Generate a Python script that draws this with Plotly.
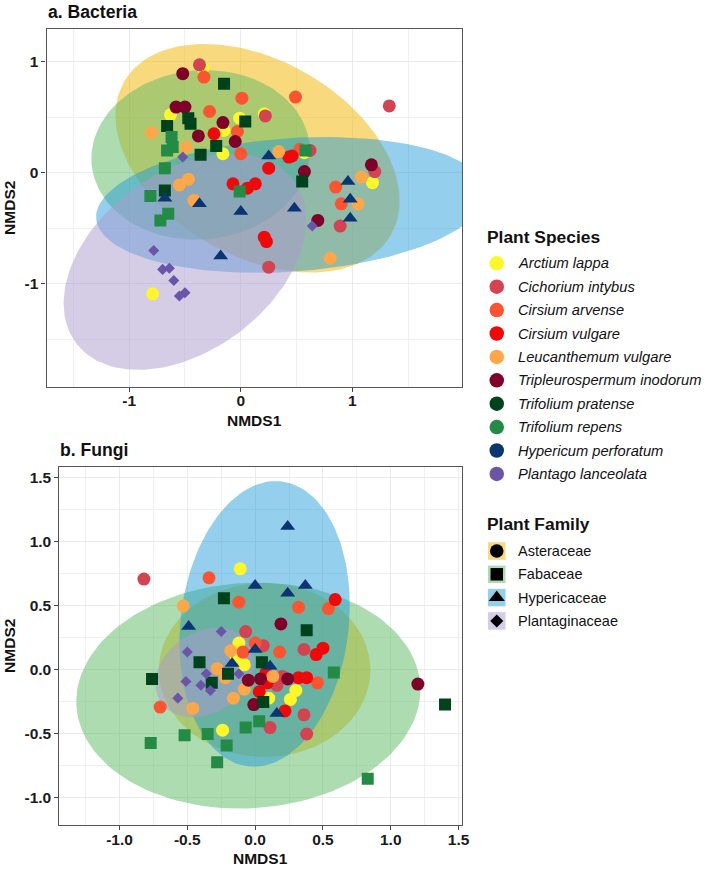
import numpy as np
import plotly.graph_objects as go

# ---------------- data ----------------
species = ["Arctium lappa", "Cichorium intybus", "Cirsium arvense", "Cirsium vulgare",
           "Leucanthemum vulgare", "Tripleurospermum inodorum", "Trifolium pratense",
           "Trifolium repens", "Hypericum perforatum", "Plantago lanceolata"]
species_family = ["Asteraceae", "Asteraceae", "Asteraceae", "Asteraceae", "Asteraceae",
                  "Asteraceae", "Fabaceae", "Fabaceae", "Hypericaceae", "Plantaginaceae"]
species_colors = ["#FCF62A", "#D24452", "#FC5430", "#EE0A0A", "#FCA84A", "#7F0028",
                  "#00421C", "#238B45", "#0B3473", "#6A55A8"]

families = ["Asteraceae", "Fabaceae", "Hypericaceae", "Plantaginaceae"]
family_fill = ["rgba(242,185,20,0.55)", "rgba(92,186,98,0.50)",
               "rgba(30,152,218,0.47)", "rgba(172,154,205,0.50)"]
family_symbol = ["circle", "square", "triangle-up", "diamond"]
family_size = [13, 12, 13, 8.5]

# Bacteria NMDS scores (one list per species, same order as `species`)
bacteria_x = [
    [-0.34, -0.63, -0.01, 0.21, -0.15, -0.16, 0.57, 1.18, -0.79],
    [-0.37, 0.22, 0.62, 1.33, 1.20, 0.89, 0.25],
    [-0.33, 0.01, 0.49, -0.28, -0.03, 0.00, 0.53, 0.85, 0.90],
    [-0.24, 0.43, 0.46, 0.25, -0.07, 0.06, 0.13, 0.21, 0.23],
    [-0.80, -0.49, 0.34, -0.55, -0.47, -0.42, 1.08, 1.05, 0.80],
    [-0.52, -0.58, -0.50, -0.16, -0.38, -0.05, 0.57, 1.17, 0.69],
    [-0.15, -0.47, -0.45, -0.66, 0.04, -0.22, -0.36, 0.55, -0.68],
    [-0.62, -0.61, -0.66, -0.68, 0.58, -0.01, -0.81, -0.65, -0.72],
    [0.25, -0.68, -0.37, 0.00, 0.48, -0.18, 0.96, 0.98, 0.98],
    [-0.52, -0.78, -0.70, -0.64, -0.60, -0.55, -0.50, 0.64],
]
bacteria_y = [
    [0.94, 0.52, 0.49, 0.53, 0.38, 0.17, 0.18, -0.09, -1.09],
    [0.97, 0.51, 0.20, 0.60, 0.01, -0.48, -0.85],
    [0.86, 0.67, 0.68, 0.55, 0.37, 0.17, 0.21, -0.13, -0.28],
    [0.35, 0.14, 0.15, 0.04, -0.10, -0.14, -0.10, -0.58, -0.62],
    [0.36, 0.23, 0.19, -0.11, -0.06, -0.25, -0.04, -0.28, -0.77],
    [0.89, 0.59, 0.59, 0.45, 0.33, 0.28, 0.01, 0.07, -0.43],
    [0.80, 0.49, 0.44, 0.42, 0.46, 0.24, 0.16, -0.08, -0.16],
    [0.32, 0.23, 0.20, 0.04, 0.20, -0.17, -0.21, -0.37, -0.43],
    [0.15, -0.23, -0.28, -0.35, -0.32, -0.75, -0.08, -0.24, -0.41],
    [0.14, -0.70, -0.87, -0.86, -0.97, -1.11, -1.08, -0.48],
]

# Fungi NMDS scores
fungi_x = [
    [-0.11, -0.12, -0.14, -0.08, 0.30, 0.26, 0.10, -0.24],
    [-0.82, -0.07, 0.06, 0.36, 0.20, 0.16, 0.36, 0.11, 0.38],
    [-0.34, -0.12, 0.32, 0.54, 0.00, -0.09, 0.18, 0.46, -0.70],
    [0.59, 0.45, 0.50, 0.08, 0.32, 0.38, 0.09, 0.03, 0.22],
    [-0.53, -0.18, -0.28, -0.22, 0.13, -0.08, -0.16, -0.46],
    [0.19, -0.05, 0.04, 0.24, -0.01, 1.20],
    [-0.23, 0.38, -0.41, 0.05, -0.76, -0.32, -0.20, 0.06, 1.40],
    [0.58, -0.77, -0.52, -0.35, -0.07, 0.03, -0.21, -0.28, 0.83],
    [0.24, 0.00, 0.24, 0.37, -0.49, 0.00, -0.17, 0.11, 0.16],
    [-0.25, -0.50, -0.36, -0.51, -0.40, -0.33, -0.12, -0.57],
]
fungi_y = [
    [0.79, 0.21, 0.10, 0.04, -0.16, -0.23, -0.22, -0.47],
    [0.71, 0.30, 0.19, 0.16, -0.05, -0.12, -0.35, -0.45, -0.50],
    [0.72, 0.53, 0.49, 0.48, 0.21, 0.14, 0.14, -0.10, -0.29],
    [0.55, 0.12, 0.17, -0.02, -0.06, -0.06, -0.10, -0.17, -0.32],
    [0.50, 0.15, 0.01, -0.06, -0.05, -0.15, -0.22, -0.30],
    [0.36, -0.08, -0.07, -0.07, -0.27, -0.11],
    [0.56, 0.31, 0.06, 0.06, -0.07, -0.10, -0.03, -0.25, -0.27],
    [-0.02, -0.57, -0.51, -0.50, -0.45, -0.40, -0.59, -0.72, -0.85],
    [1.12, 0.66, 0.60, 0.66, 0.34, 0.16, 0.05, 0.03, -0.34],
    [0.30, 0.14, -0.03, -0.09, -0.12, -0.16, -0.03, -0.22],
]

# 95% ellipses per family: centre x, centre y, semi-axes a, b, rotation (deg)
bacteria_ell_cx = [0.15, -0.36, 0.45, -0.50]
bacteria_ell_cy = [0.13, 0.16, -0.29, -0.80]
bacteria_ell_a = [1.38, 0.98, 1.75, 1.22]
bacteria_ell_b = [0.88, 0.76, 0.60, 0.80]
bacteria_ell_ang = [-30, 5, 4, 37]

fungi_ell_cx = [0.07, -0.05, 0.07, -0.37]
fungi_ell_cy = [0.00, -0.20, 0.36, -0.02]
fungi_ell_a = [0.78, 1.27, 1.12, 0.40]
fungi_ell_b = [0.68, 0.88, 0.62, 0.31]
fungi_ell_ang = [0, 4, 84, 40]

bac_ticks = [-1, 0, 1]
bac_ticktext = ["-1", "0", "1"]
bac_minor = [-1.5, -0.5, 0.5, 1.5]
fun_ticks = [-1.0, -0.5, 0.0, 0.5, 1.0, 1.5]
fun_ticktext = ["-1.0", "-0.5", "0.0", "0.5", "1.0", "1.5"]
fun_minor = [-1.25, -0.75, -0.25, 0.25, 0.75, 1.25]

# ---------------- figure ----------------
W, H = 709, 869
FONT = "Liberation Sans, Arial, Helvetica, sans-serif"


def ellipse(cx, cy, a, b, ang, n=160):
    t = np.linspace(0, 2 * np.pi, n)
    th = np.radians(ang)
    x = cx + a * np.cos(t) * np.cos(th) - b * np.sin(t) * np.sin(th)
    y = cy + a * np.cos(t) * np.sin(th) + b * np.sin(t) * np.cos(th)
    return x, y


fig = go.Figure()

panels = [
    ("x", "y", bacteria_x, bacteria_y,
     (bacteria_ell_cx, bacteria_ell_cy, bacteria_ell_a, bacteria_ell_b, bacteria_ell_ang)),
    ("x2", "y2", fungi_x, fungi_y,
     (fungi_ell_cx, fungi_ell_cy, fungi_ell_a, fungi_ell_b, fungi_ell_ang)),
]

for xa, ya, px, py, ell in panels:
    cxs, cys, aas, bbs, angs = ell
    for j, fam in enumerate(families):
        ex, ey = ellipse(cxs[j], cys[j], aas[j], bbs[j], angs[j])
        fig.add_trace(go.Scatter(x=ex, y=ey, mode="lines", fill="toself",
                                 fillcolor=family_fill[j], line=dict(width=0, color="rgba(0,0,0,0)"),
                                 xaxis=xa, yaxis=ya, hoverinfo="skip", showlegend=False))
    for i, sp in enumerate(species):
        k = families.index(species_family[i])
        fig.add_trace(go.Scatter(x=px[i], y=py[i], mode="markers", name=sp,
                                 marker=dict(symbol=family_symbol[k], size=family_size[k],
                                             color=species_colors[i], line=dict(width=0)),
                                 xaxis=xa, yaxis=ya, showlegend=False))

# ---- manual legend on a pixel-coordinate axis ----
sp_y0, sp_dy = 263.3, 23.4
fam_y0, fam_dy = 551.0, 23.3
leg_mx, leg_tx = 501.7, 521.5

fig.add_trace(go.Scatter(x=[leg_mx] * len(species),
                         y=[sp_y0 + sp_dy * i for i in range(len(species))],
                         mode="markers", marker=dict(symbol="circle", size=14.5, color=species_colors,
                                                     line=dict(width=0)),
                         xaxis="x3", yaxis="y3", hoverinfo="skip", showlegend=False, cliponaxis=False))
fig.add_trace(go.Scatter(x=[leg_mx] * len(families),
                         y=[fam_y0 + fam_dy * j for j in range(len(families))],
                         mode="markers", marker=dict(symbol="square", size=17.5, color=family_fill,
                                                     line=dict(width=0)),
                         xaxis="x3", yaxis="y3", hoverinfo="skip", showlegend=False, cliponaxis=False))
leg_sizes = [13.5, 12.5, 14, 10]
for j, fam in enumerate(families):
    fig.add_trace(go.Scatter(x=[leg_mx], y=[fam_y0 + fam_dy * j], mode="markers",
                             marker=dict(symbol=family_symbol[j], size=leg_sizes[j], color="black",
                                         line=dict(width=0)),
                             xaxis="x3", yaxis="y3", hoverinfo="skip", showlegend=False,
                             cliponaxis=False))

ann = []
for i, sp in enumerate(species):
    ann.append(dict(x=leg_tx, y=sp_y0 + sp_dy * i, xref="x3", yref="y3", text="<i>%s</i>" % sp,
                    showarrow=False, xanchor="left", yanchor="middle",
                    font=dict(family=FONT, size=14.7, color="#111")))
for j, fam in enumerate(families):
    ann.append(dict(x=leg_tx, y=fam_y0 + fam_dy * j, xref="x3", yref="y3", text=fam,
                    showarrow=False, xanchor="left", yanchor="middle",
                    font=dict(family=FONT, size=14.5, color="#111")))
ann.append(dict(x=490, y=237, xref="x3", yref="y3", text="<b>Plant Species</b>", showarrow=False,
                xanchor="left", yanchor="middle", font=dict(family=FONT, size=17.4, color="#111")))
ann.append(dict(x=490, y=524, xref="x3", yref="y3", text="<b>Plant Family</b>", showarrow=False,
                xanchor="left", yanchor="middle", font=dict(family=FONT, size=17.4, color="#111")))

# titles and axis titles (paper coords from pixels)
def P(xpx, ypx):
    return xpx / W, 1 - ypx / H

for txt, (xp, yp), xa, rot in [
    ("<b>a. Bacteria</b>", P(46, 12), "left", 0),
    ("<b>b. Fungi</b>", P(59, 450), "left", 0),
    ("<b>NMDS1</b>", P(257, 420), "center", 0),
    ("<b>NMDS1</b>", P(263, 858), "center", 0),
    ("<b>NMDS2</b>", P(9, 208), "center", -90),
    ("<b>NMDS2</b>", P(9, 646), "center", -90),
]:
    size = 17.6 if "." in txt else 15.5
    ann.append(dict(x=xp, y=yp, xref="paper", yref="paper", text=txt, showarrow=False,
                    xanchor=xa, yanchor="middle", textangle=rot,
                    font=dict(family=FONT, size=size, color="#111")))

axis_common = dict(showgrid=True, gridcolor="#EBEBEB", gridwidth=1, zeroline=False,
                   showline=True, linecolor="#555", linewidth=1.2, mirror=True,
                   ticks="outside", ticklen=4, tickcolor="#444", tickwidth=1,
                   tickfont=dict(family=FONT, size=15.5, color="#1a1a1a", weight="bold"))

fig.update_layout(
    width=W, height=H, margin=dict(l=0, r=0, t=0, b=0),
    paper_bgcolor="white", plot_bgcolor="white", showlegend=False,
    xaxis=dict(domain=[47 / W, 467 / W], range=[-1.74, 1.985], anchor="y",
               tickvals=bac_ticks, ticktext=bac_ticktext, ticklabelstandoff=-4,
               minor=dict(tickvals=bac_minor, showgrid=True, gridcolor="#F0F0F0", gridwidth=0.6, ticks=""),
               **axis_common),
    yaxis=dict(domain=[1 - 386.7 / H, 1 - 29 / H], range=[-1.925, 1.292], anchor="x",
               tickvals=bac_ticks, ticktext=bac_ticktext,
               minor=dict(tickvals=bac_minor, showgrid=True, gridcolor="#F0F0F0", gridwidth=0.6, ticks=""),
               **axis_common),
    xaxis2=dict(domain=[60 / W, 467 / W], range=[-1.443, 1.528], anchor="y2",
                tickvals=fun_ticks, ticktext=fun_ticktext, ticklabelstandoff=-4,
                minor=dict(tickvals=fun_minor, showgrid=True, gridcolor="#F0F0F0", gridwidth=0.6, ticks=""),
                **axis_common),
    yaxis2=dict(domain=[1 - 825 / H, 1 - 466.7 / H], range=[-1.211, 1.588], anchor="x2",
                tickvals=fun_ticks, ticktext=fun_ticktext,
                minor=dict(tickvals=fun_minor, showgrid=True, gridcolor="#F0F0F0", gridwidth=0.6, ticks=""),
                **axis_common),
    xaxis3=dict(domain=[480 / W, 1.0], range=[480, 709], visible=False, anchor="y3", fixedrange=True),
    yaxis3=dict(domain=[0.0, 1.0], range=[869, 0], visible=False, anchor="x3", fixedrange=True),
    annotations=ann,
)

fig.write_html("out.html")
